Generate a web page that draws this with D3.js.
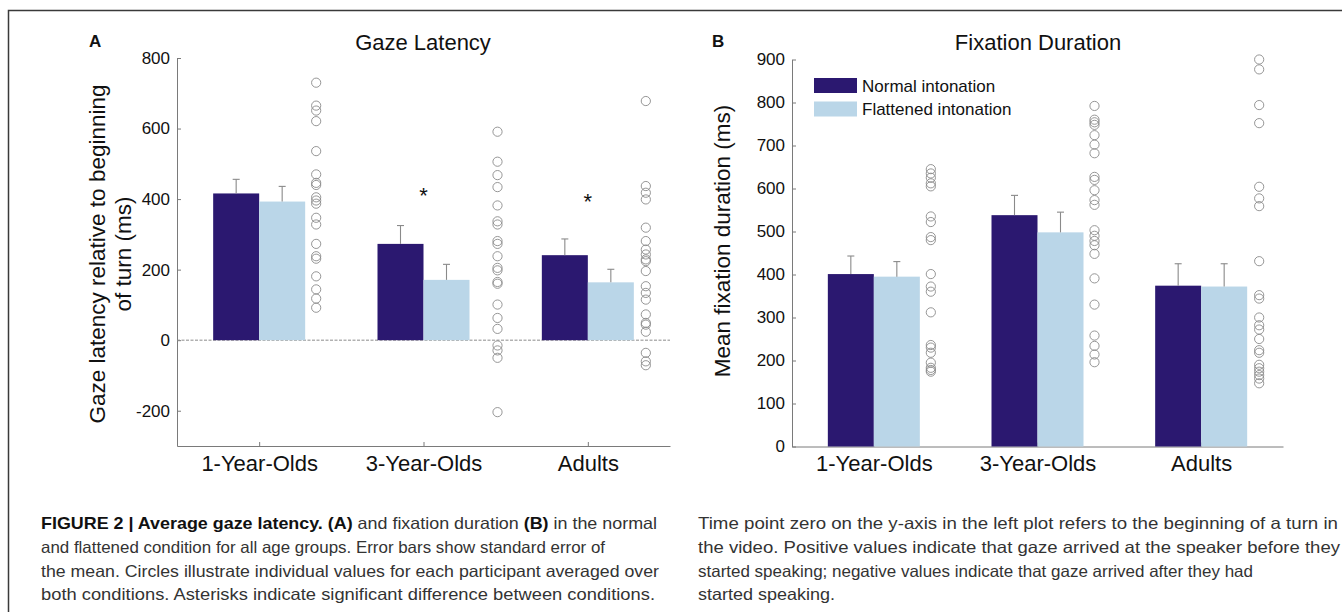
<!DOCTYPE html>
<html>
<head>
<meta charset="utf-8">
<script src="https://cdn.jsdelivr.net/npm/d3@7"></script>
<style>
  body { margin: 0; background: #fff; }
  svg { display: block; }
  .chart text { font-family: "Liberation Sans", Arial, sans-serif; fill: #111; }
  .caption text { font-family: "Liberation Sans Narrow", "Arial Narrow", "Liberation Sans", sans-serif; font-size: 16.5px; fill: #333; }
  .caption .b { font-weight: bold; fill: #111; }
</style>
</head>
<body>
<div id="fig"></div>
<script>
// values
const groups = ["1-Year-Olds", "3-Year-Olds", "Adults"];
const conditions = ["Normal intonation", "Flattened intonation"];

const latencyNormal = [416, 273, 241];
const latencyNormalSE = [40, 52, 46];
const latencyFlat = [393, 171, 164];
const latencyFlatSE = [43, 44, 37];
const latencyStars = [null, 425, 410];
const latencyTicks = [-200, 0, 200, 400, 600, 800];

const latencyDots = [
    [730, 665, 651, 621, 536, 470, 446, 440, 405, 396, 387, 347, 328, 273, 238, 231, 181, 144, 118, 92],
    [591, 506, 468, 434, 382, 337, 328, 281, 273, 238, 205, 198, 165, 160, 101, 63, 32, -15, -29, -50, -204],
    [678, 437, 418, 399, 319, 281, 257, 243, 229, 224, 196, 153, 134, 115, 73, 49, 44, 24, -36, -60, -71]
];

const fixationNormal = [401, 538, 374];
const fixationNormalSE = [42, 46, 51];
const fixationFlat = [395, 498, 372];
const fixationFlatSE = [35, 47, 53];
const fixationTicks = [0, 100, 200, 300, 400, 500, 600, 700, 800, 900];

const fixationDots = [
    [645, 635, 625, 612, 605, 535, 522, 487, 480, 401, 372, 360, 312, 236, 230, 218, 195, 183, 178, 174],
    [792, 760, 754, 748, 724, 702, 682, 627, 620, 596, 573, 562, 503, 490, 478, 468, 448, 391, 330, 258, 234, 214, 196],
    [900, 877, 794, 752, 604, 577, 559, 431, 352, 344, 300, 282, 272, 250, 224, 218, 190, 182, 174, 166, 158, 147]
];

const captionLeft = [
    [["FIGURE 2 | Average gaze latency. (A)", true], [" and fixation duration ", false], ["(B)", true], [" in the normal", false]],
    [["and flattened condition for all age groups. Error bars show standard error of", false]],
    [["the mean. Circles illustrate individual values for each participant averaged over", false]],
    [["both conditions. Asterisks indicate significant difference between conditions.", false]]
];
const captionRight = [
    [["Time point zero on the y-axis in the left plot refers to the beginning of a turn in", false]],
    [["the video. Positive values indicate that gaze arrived at the speaker before they", false]],
    [["started speaking; negative values indicate that gaze arrived after they had", false]],
    [["started speaking.", false]]
];

const width = 1342, height = 612;
const darkBlue = "#2b1870", lightBlue = "#bad6e8";
const axisGrey = "#7a7a7a";
const barW = 46;

const svg = d3.select("#fig").append("svg")
    .attr("width", width)
    .attr("height", height);

// frame of the figure page
svg.append("path")
    .attr("d", `M8.5,${height} V10.5 H${width}`)
    .attr("fill", "none")
    .attr("stroke", "#3a3a3a")
    .attr("stroke-width", 1.5);

const chart = svg.append("g").attr("class", "chart");

function drawPanel(cfg) {
    const g = chart.append("g");

    const x = d3.scalePoint()
        .domain(groups)
        .range([cfg.left, cfg.right])
        .padding(0.5);

    const y = d3.scaleLinear()
        .domain(cfg.domain)
        .range([cfg.bottom, cfg.top]);

    // y axis, ticks pointing inwards
    const yAxis = g.append("g")
        .attr("transform", `translate(${cfg.left},0)`)
        .call(d3.axisLeft(y)
            .tickValues(cfg.ticks)
            .tickFormat(d => String(d))
            .tickSizeInner(-4).tickSizeOuter(0).tickPadding(7));

    const xAxis = g.append("g")
        .attr("transform", `translate(0,${cfg.bottom})`)
        .call(d3.axisBottom(x).tickSizeInner(-4).tickSizeOuter(0).tickPadding(9));

    [yAxis, xAxis].forEach(a => {
        a.select(".domain").attr("stroke", axisGrey);
        a.selectAll(".tick line").attr("stroke", axisGrey);
    });
    yAxis.selectAll("text").attr("font-size", 17).attr("fill", "#111");
    xAxis.selectAll("text").attr("font-size", 22).attr("fill", "#111");

    if (cfg.domain[0] < 0) {
        g.append("line")
            .attr("x1", cfg.left).attr("x2", cfg.right)
            .attr("y1", y(0)).attr("y2", y(0))
            .attr("stroke", "#8c8c8c")
            .attr("stroke-dasharray", "3,1.5");
    }

    const barData = [];
    groups.forEach((grp, i) => {
        barData.push({ group: grp, cond: 0, value: cfg.normal[i], se: cfg.normalSE[i] });
        barData.push({ group: grp, cond: 1, value: cfg.flat[i], se: cfg.flatSE[i] });
    });

    g.append("g")
        .selectAll("rect")
        .data(barData)
        .enter()
        .append("rect")
        .attr("x", d => x(d.group) - barW + d.cond * barW)
        .attr("width", barW)
        .attr("y", d => y(d.value))
        .attr("height", d => y(0) - y(d.value))
        .attr("fill", d => d.cond === 0 ? darkBlue : lightBlue);

    // error bars (upper half only)
    const err = g.append("g")
        .attr("stroke", "#8a8a8a")
        .attr("stroke-width", 1.1);

    barData.forEach(d => {
        const cx = x(d.group) - barW / 2 + d.cond * barW;
        err.append("line")
            .attr("x1", cx).attr("x2", cx)
            .attr("y1", y(d.value)).attr("y2", y(d.value + d.se));
        err.append("line")
            .attr("x1", cx - 3.5).attr("x2", cx + 3.5)
            .attr("y1", y(d.value + d.se)).attr("y2", y(d.value + d.se));
    });

    // individual participants
    cfg.dots.forEach((vals, i) => {
        g.append("g")
            .selectAll("circle")
            .data(vals)
            .enter()
            .append("circle")
            .attr("cx", x(groups[i]) + cfg.dotOffset[i])
            .attr("cy", d => y(d))
            .attr("r", 4.6)
            .attr("fill", "none")
            .attr("stroke", "#8a8a8a")
            .attr("stroke-width", 0.9);
    });

    if (cfg.stars) {
        cfg.stars.forEach((v, i) => {
            if (v === null) return;
            g.append("text")
                .attr("x", x(groups[i]))
                .attr("y", y(v) + 13)
                .attr("text-anchor", "middle")
                .attr("font-size", 22)
                .text("*");
        });
    }

    g.append("text")
        .attr("x", cfg.titleX)
        .attr("y", 50)
        .attr("text-anchor", "middle")
        .attr("font-size", 22)
        .text(cfg.title);

    g.append("text")
        .attr("x", cfg.letterX)
        .attr("y", 47)
        .attr("font-size", 17)
        .attr("font-weight", "bold")
        .text(cfg.letter);

    cfg.yLabel.forEach((line, i) => {
        g.append("text")
            .attr("transform", `translate(${cfg.yLabelX + i * 26},${cfg.yLabelY}) rotate(-90)`)
            .attr("text-anchor", "middle")
            .attr("font-size", 22.5)
            .text(line);
    });

    return { x, y, g };
}

drawPanel({
    left: 177, right: 670, top: 58, bottom: 446,
    domain: [-300, 800], ticks: latencyTicks,
    normal: latencyNormal, normalSE: latencyNormalSE,
    flat: latencyFlat, flatSE: latencyFlatSE,
    dots: latencyDots, dotOffset: [57, 74, 58],
    stars: latencyStars,
    title: "Gaze Latency", titleX: 423,
    letter: "A", letterX: 89,
    yLabel: ["Gaze latency relative to beginning", "of turn (ms)"], yLabelX: 105, yLabelY: 254
});

const panelB = drawPanel({
    left: 792, right: 1283, top: 59.5, bottom: 446.5,
    domain: [0, 900], ticks: fixationTicks,
    normal: fixationNormal, normalSE: fixationNormalSE,
    flat: fixationFlat, flatSE: fixationFlatSE,
    dots: fixationDots, dotOffset: [57, 57, 58],
    stars: null,
    title: "Fixation Duration", titleX: 1038,
    letter: "B", letterX: 712,
    yLabel: ["Mean fixation duration (ms)"], yLabelX: 730, yLabelY: 241
});

// legend
const legend = panelB.g.append("g")
    .selectAll("g")
    .data(conditions)
    .enter()
    .append("g")
    .attr("transform", (d, i) => `translate(814,${78 + i * 23.5})`);

legend.append("rect")
    .attr("width", 43)
    .attr("height", 15)
    .attr("fill", (d, i) => i === 0 ? darkBlue : lightBlue);

legend.append("text")
    .attr("x", 48)
    .attr("y", 13.5)
    .attr("font-size", 17)
    .text(d => d);

// caption underneath, squeezed to the narrow face of the original
const caption = svg.append("g").attr("class", "caption");

function writeColumn(lines, x0, widths) {
    lines.forEach((segs, i) => {
        const t = caption.append("text")
            .attr("x", x0)
            .attr("y", 529 + i * 23.8);
        segs.forEach(s => {
            t.append("tspan")
                .attr("class", s[1] ? "b" : null)
                .text(s[0]);
        });
        t.attr("textLength", widths[i]).attr("lengthAdjust", "spacingAndGlyphs");
    });
}

writeColumn(captionLeft, 41, [616, 564, 618, 614]);
writeColumn(captionRight, 698, [640, 642, 555, 137]);
</script>
</body>
</html>
